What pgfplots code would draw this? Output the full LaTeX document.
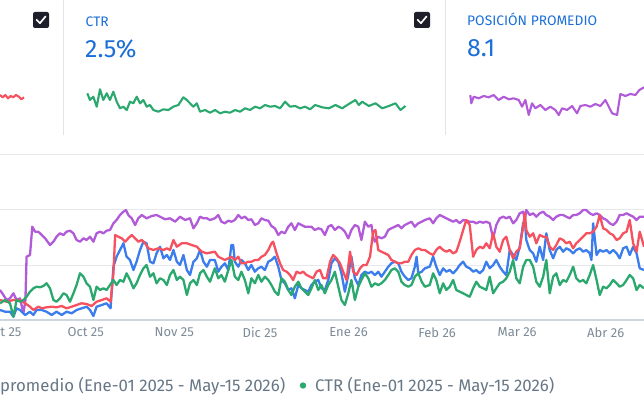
\documentclass[border=0pt]{standalone}
\usepackage{pgfplots}
\pgfplotsset{compat=1.18}
\usepackage{fontspec}
\setmainfont{Fira Sans}
\definecolor{cpurple}{HTML}{B25BD8}
\definecolor{cred}{HTML}{F5515F}
\definecolor{cblue}{HTML}{3B7DED}
\definecolor{cgreen}{HTML}{2AA86E}
\definecolor{ctitle}{HTML}{1B6FD8}
\definecolor{cdiv}{HTML}{E2E4E8}
\definecolor{cgrid}{HTML}{E6E8EB}
\definecolor{caxis}{HTML}{CCD6E0}
\definecolor{ctick}{HTML}{7D8B99}
\definecolor{clegend}{HTML}{687787}
\definecolor{cbox}{HTML}{1E1F2A}
\begin{document}
\begin{tikzpicture}[x=1pt,y=1pt]
\useasboundingbox (0pt,0pt) rectangle (644pt,407pt);
\clip (0pt,0pt) rectangle (644pt,407pt);
\fill[white] (0pt,0pt) rectangle (644pt,407pt);
% card dividers
\draw[cdiv, line width=1pt] (63.5pt,407pt) -- (63.5pt,272pt);
\draw[cdiv, line width=1pt] (445.5pt,407pt) -- (445.5pt,272pt);
% checkboxes
\fill[cbox, rounded corners=2pt] (33pt,379pt) rectangle (49pt,395pt);
\draw[white, line width=1.7pt, line cap=round, line join=round] (36.6pt,387.2pt) -- (39.9pt,383.8pt) -- (45.6pt,390.6pt);
\fill[cbox, rounded corners=2pt] (414pt,379pt) rectangle (430pt,395pt);
\draw[white, line width=1.7pt, line cap=round, line join=round] (417.6pt,387.2pt) -- (420.9pt,383.8pt) -- (426.6pt,390.6pt);
% card texts
\node[anchor=base west, inner sep=0, text=ctitle, font=\fontsize{13.8}{13.8}\selectfont] at (85.5pt,380pt) {CTR};
\node[anchor=base west, inner sep=0, text=ctitle, font=\fontsize{25}{25}\selectfont] at (85pt,349pt) {2.5\%};
\node[anchor=base west, inner sep=0, text=ctitle, font=\fontsize{13.8}{13.8}\selectfont] at (467pt,381pt) {POSICIÓN PROMEDIO};
\node[anchor=base west, inner sep=0, text=ctitle, font=\fontsize{25}{25}\selectfont] at (467pt,350pt) {8.1};
% sparkline: clicks card (fragment)
\begin{axis}[at={(-294pt,287pt)}, anchor=south west, width=318pt, height=40pt, scale only axis,
  xmin=0, xmax=499, ymin=0, ymax=40, hide axis, clip=false]
\addplot[cred, line width=2.1pt, line join=round] coordinates {
(461.3,25)(465.6,22.7)(469.7,25)(473.9,21.7)(478.1,24)(482.2,22.7)(486.4,25)(490.7,23.3)(494.8,20.7)(499,22.7)};
\end{axis}
% sparkline: CTR
\begin{axis}[at={(87.3pt,287pt)}, anchor=south west, width=318pt, height=40pt, scale only axis,
  xmin=0, xmax=499, ymin=0, ymax=40, hide axis, clip=false]
\addplot[cgreen, line width=2.1pt, line join=round] coordinates {
(0,26.7)(4.2,20)(9.4,23.3)(14.8,13.3)(19.9,30.7)(25.1,20)(30.5,26.7)(35.6,20)(40.8,28.3)(46.2,18.3)
(51.3,11.7)(56.5,13.3)(61.9,10)(67,18.3)(72.2,16.7)(77.6,23.3)(82.7,16.7)(87.9,20)(93.3,13.3)(98.4,15)
(103.6,10)(111.5,8.3)(119.3,10.7)(127.2,10)(135,13.3)(142.9,15)(150.7,22.7)(156.1,20)(161.2,16.7)(166.4,13.3)
(171.8,16.7)(176.9,8.3)(184.8,10)(192.6,7.3)(200.5,10)(208.3,6.7)(216.2,8.3)(224,7.3)(231.9,10)(239.7,8.3)
(247.6,11.7)(255.4,10)(263.3,13.3)(271.1,11.7)(279,15)(286.8,13.3)(294.7,14)(302.5,11.7)(310.4,18.3)(318.2,13.3)
(326.1,14)(333.9,11.7)(341.8,13.3)(349.6,10.7)(357.5,15)(368.5,12.7)(379,11.7)(389.4,15)(399.9,11.7)(410.4,16)
(420.7,20)(426.1,15)(431.3,18.3)(441.8,14)(452.2,16.7)(462.7,11.7)(473.2,14)(483.6,16.7)(491.4,10)(499.3,14)};
\end{axis}
% sparkline: position
\begin{axis}[at={(470.3pt,287pt)}, anchor=south west, width=318pt, height=40pt, scale only axis,
  xmin=0, xmax=499, ymin=0, ymax=40, hide axis, clip=false]
\addplot[cpurple, line width=2.1pt, line join=round] coordinates {
(0,25)(1.6,16.7)(5.3,23.3)(13.2,21.7)(21,24)(28.9,22.7)(36.7,25)(44.6,20)(52.4,23.3)(60.3,20.7)
(68.1,21.7)(76,20)(81.2,13.3)(86.4,20)(91.7,5)(96.9,16.7)(102.1,11.7)(109.9,15)(117.8,10)(125.6,13.3)
(133.5,10)(138.8,5)(144,11.7)(151.8,10)(159.7,14)(167.5,6.7)(172.7,14)(180.6,15)(188.4,13.3)(196.3,16)
(204.1,14)(212,20)(217.3,13.3)(222.5,6.7)(230.3,5)(235.5,26)(243.4,24)(251.2,26)(259.1,25)(265.3,30)(272.7,32.7)};
\end{axis}
% main chart
\begin{axis}[at={(0pt,87pt)}, anchor=south west, width=644pt, height=165pt, scale only axis,
  xmin=0, xmax=225.4, ymin=0, ymax=165, clip=false,
  axis x line=bottom, x axis line style={caxis, line width=1.2pt, -},
  y axis line style={draw=none},
  ytick={55,110,165}, yticklabels={}, ymajorgrids, grid style={cgrid, line width=1pt},
  major tick length=0pt,
  xtick={0,30,61,91,122,153,181,212},
  xticklabels={Sept 25,Oct 25,Nov 25,Dic 25,Ene 26,Feb 26,Mar 26,Abr 26},
  xticklabel style={font=\fontsize{13}{13}\selectfont, text=ctick, yshift=-4pt},
  every axis plot/.append style={line width=2.3pt, line join=round, mark=none}]
\addplot[cpurple] coordinates {
(0,30)(1.2,25)(2.3,20)(3.5,21.7)(4.7,26.7)(5.8,20)(7,21.7)(8.2,6.7)(8.9,20)(9.3,63.3)(10.5,65)(11.3,93.3)(12.3,88.3)(13.4,88.3)(14.6,85)(15.8,81.7)(17.5,75)(18.7,78.3)(19.8,83.3)(21,86.7)(22.2,85)(23.3,88.3)(24.5,89.3)(25.7,86.7)(26.8,80)(28,78.3)(29.2,81.7)(30.3,80)(31.5,83.3)(32.7,78.3)(33.8,86.7)(35,88.3)(36.2,86.7)(37.3,89.3)(38.5,90)(39.7,96.7)(40.8,100)(42,105)(43.2,108.3)(44.1,110)(44.9,105)(46.1,101.7)(47.3,95)(48.4,101.7)(49.6,105)(51.3,101.7)(53.1,104)(54.8,105)(56,103.3)(57.8,100.7)(59.5,101.7)(61.3,98.3)(63,103.3)(64.8,100)(66.5,101.7)(67.7,91.7)(68.9,96.7)(70,103.3)(71.2,101.7)(72.4,101.7)(73.5,100)
(75.2,101.7)(76.4,105)(77.5,98.3)(78.7,96.7)(79.9,99.3)(81,98.3)(82.2,100)(83.4,105)(84.5,101.7)(85.7,103.3)(86.9,100)(88,100.7)(89.2,95)(90.4,96.7)(91.5,101.7)(92.7,100)(93.9,99.3)(95,94)(96.2,91.7)(97.4,85)(98.5,88.3)(99.7,86.7)(100.9,93.3)(102,96.7)(103.2,90)(104.4,96.7)(105.5,95)(106.7,93.3)(107.9,93.3)(109,93.3)(110.2,90)(111.4,91.7)(112.5,90.7)(113.7,85)(114.9,93.3)(116,95)(117.2,90)(118.4,93.3)(119.5,91.7)(120.7,88.3)(121.9,81.7)(123,90)(124.2,95)(125.4,93.3)(126.5,80)(127.7,98.3)(128.9,93.3)(130,95)(130.6,83.3)(131.2,78.3)(132.4,83.3)(133.5,81.7)(134.7,83.3)(135.9,90)(137,91.7)(138.2,93.3)(139.4,95)(140.5,91.7)(141.7,95)(142.9,96.7)(144,98.3)(145.2,93.3)(146.4,96.7)(147.6,98.3)(148.7,100)
(150.4,101.7)(151.6,96.7)(152.7,101.7)(153.9,105)(155.1,103.3)(156.2,101.7)(157.4,100)(158.6,98.3)(159.7,100)(160.9,96.7)(162.1,100)(163.2,99.3)(164.4,98.3)(165.6,98.3)(166.7,96.7)(167.9,98.3)(169.1,97.3)(170.2,98.3)(171.4,96.7)(172.6,81.7)(173.7,95)(174.9,101.7)(176.1,103.3)(177.2,101.7)(178.4,103.3)(179.6,96.7)(180.7,100)(181.9,106.7)(183.1,108.3)(183.7,100)(184.2,110)(185.4,105)(186.6,106.7)(187.7,103.3)(188.9,106.7)(190.1,108.3)(191.2,105)(192.4,103.3)(193.6,100)(194.7,103.3)(195.9,105)(197.1,105)(198.2,103.3)(199.4,101.7)(200.6,105)(201.7,105)(202.9,106.7)(204.1,110)(205.2,110)(206.4,106.7)(207.6,105)(208.8,106.7)(209.9,105)(211.1,101.7)(212.3,100)(213.4,96.7)(214.6,95)(215.8,98.3)(216.9,105)(218.1,105)(219.3,106.7)(220.4,105)(221.6,103.3)(222.8,100)(223.9,103.3)(225.4,103.3)};
\addplot[cblue] coordinates {
(0,10)(1.8,8.3)(3.5,8.3)(4.7,3.3)(5.8,11.7)(7,10)(8.8,5)(10.5,8.3)(11.7,5)(12.8,10)(14.6,10)(16.3,8.3)(18.1,5)(19.8,8.3)(21.6,5)(23.3,8.3)(25.1,6.7)(26.8,10)(28.6,11.7)(30.3,13.3)(31.5,10)(32.7,4)(33.8,13.3)(35.6,15)(37.3,16.7)(38.7,11.7)(39.7,53.3)(40.8,63.3)(42,70)(43.2,76.7)(44.3,63.3)(45.5,60)(46.7,50)(47.8,58.3)(49,70)(50.2,78.3)(51.3,76.7)(52.5,58.3)(53.7,56.7)(54.8,66.7)(56,73.3)(57.2,61.7)(58.4,65)(59.5,60)(60.7,70)(61.9,58.3)(63,55)(64.2,65)(65.4,50)(66.5,45)(67.7,58.3)(68.9,61.7)(70,70)(71.2,58.3)(72.4,53.3)(73.5,60)
(75.2,60)(76.4,48.3)(77.5,53.3)(78.7,56.7)(79.9,50)(81,75)(81.6,75)(82.2,58.3)(83.4,53.3)(84.5,60)(85.7,56.7)(86.9,50)(88,55)(89.2,48.3)(90.4,51.7)(91.5,53.3)(92.7,50)(93.9,58.3)(95,60)(96.2,63.3)(97.4,53.3)(98.5,40)(99.7,36.7)(100.9,30)(102,31.7)(103.2,21.7)(104.4,35)(105.5,31.7)(106.7,30)(107.9,28.3)(109,35)(110.2,38.3)(111.4,40)(112.5,31.7)(113.7,30)(114.9,40)(116,56.7)(117.2,61.7)(118.4,58.3)(119.5,46.7)(120.7,28.3)(121.9,45)(123,63.3)(124.2,41.7)(125.4,35)(126.5,45)(127.7,48.3)(128.9,46.7)(130,48.3)(131.2,45)(132.4,48.3)(133.5,43.3)(134.7,48.3)(135.9,53.3)(137,56.7)(138.2,58.3)(139.4,56.7)(140.5,48.3)(141.7,43.3)(142.9,40)(144,41.7)(145.2,53.3)(145.8,63.3)(146.4,46.7)(147.6,48.3)(148.7,51.7)
(150.4,53.3)(151.6,63.3)(152.7,53.3)(153.9,45)(155.1,51.7)(156.2,48.3)(157.4,50)(158.6,46.7)(159.7,50)(160.9,55)(162.1,58.3)(163.2,53.3)(164.4,51.7)(165.6,48.3)(166.7,50)(167.9,46.7)(169.1,50)(170.2,58.3)(171.4,51.7)(172.6,55)(173.7,60)(174.9,53.3)(176.1,48.3)(177.2,45)(178.4,70)(179.6,65)(180.7,60)(181.9,73.3)(183.1,96.7)(183.7,100)(184.2,80)(185.4,70)(186.6,66.7)(187.7,58.3)(188.9,73.3)(190.1,60)(191.2,86.7)(192.4,70)(193.6,61.7)(194.7,70)(195.9,73.3)(197.1,68.3)(198.2,71.7)(199.4,70)(200.6,66.7)(201.7,70)(202.9,71.7)(204.1,68.3)(205.2,70)(206.4,66.7)(207,60)(207.6,96.7)(208.8,65)(209.9,70)(211.1,68.3)(212.3,70)(213.4,66.7)(214.6,70)(215.8,66.7)(216.9,61.7)(218.1,71.7)(219.3,73.3)(220.4,65)(221.6,73.3)(222.8,66.7)(223.9,51.7)(225.4,50)};
\addplot[cred] coordinates {
(0,20)(2.3,18.3)(4.7,20)(7,20)(8.8,16.7)(10.5,13.3)(11.7,10)(13.4,13.3)(14.6,11.7)(16.3,12.7)(18.1,13.3)(19.8,12.7)(21.6,14)(23.3,11.7)(25.1,13.3)(26.8,15)(28.6,16.7)(30.3,16)(32.1,14)(33.8,18.3)(35.6,20)(37.3,21.7)(38.7,18.3)(39.7,46.7)(40.3,85)(41.4,83.3)(42.6,81.7)(43.8,78.3)(44.9,81.7)(46.1,85)(47.3,81.7)(48.4,78.3)(49.6,80)(50.8,76.7)(51.9,71.7)(53.7,70)(55.4,71.7)(57.2,70)(58.4,71.7)(59.5,70)(60.7,80)(61.9,73.3)(63.6,76.7)(65.4,76.7)(67.1,75)(68.9,73.3)(70.6,68.3)(72.4,66.7)
(75.2,68.3)(76.4,63.3)(77.5,61.7)(78.7,60)(79.9,61.7)(81,63.3)(82.2,60)(83.4,63.3)(84.5,56.7)(85.7,56.7)(86.9,58.3)(88,58.3)(89.2,60)(90.4,60)(91.5,63.3)(92.7,65)(93.9,70)(95,76.7)(95.6,78.3)(96.8,66.7)(98,56.7)(99.1,50)(100.3,48.3)(101.5,45)(102.6,40)(103.8,48.3)(105,46.7)(106.1,48.3)(107.3,45)(108.5,43.3)(109.6,41.7)(110.8,48.3)(112,50)(113.1,41.7)(114.3,41.7)(115.5,58.3)(116.6,65)(117.8,61.7)(119,56.7)(120.1,48.3)(121.3,40)(122.5,68.3)(123.6,48.3)(124.8,45)(126,51.7)(127.1,55)(128.3,55)(129.5,63.3)(130.6,88.3)(131.4,90)(132.4,70)(133.5,68.3)(134.7,66.7)(135.9,65)(137,60)(138.2,58.3)(139.4,56.7)(140.5,56.7)(141.7,58.3)(142.9,58.3)(144,65)(145.2,70)(146.4,71.7)(147.6,70)(148.7,70)
(150.4,66.7)(151.6,65)(152.7,70)(153.9,73.3)(155.1,70)(156.2,68.3)(157.4,70)(158.6,66.7)(159.7,68.3)(160.9,78.3)(162.1,90)(163.2,100)(164.4,95)(165.6,63.3)(166.7,70)(167.9,73.3)(169.1,71.7)(170.2,76.7)(171.4,71.7)(172.6,86.7)(173.7,73.3)(174.9,68.3)(176.1,80)(177.2,83.3)(178.4,70)(179.6,61.7)(180.7,68.3)(181.9,71.7)(183.1,93.3)(183.7,106.7)(184.2,90)(185.4,83.3)(186.6,86.7)(187.7,76.7)(188.9,85)(190.1,83.3)(191.2,83.3)(192.4,73.3)(193.6,70)(194.7,75)(195.9,81.7)(197.1,80)(198.2,76.7)(199.4,78.3)(200.6,71.7)(201.7,76.7)(202.9,80)(204.1,83.3)(205.2,86.7)(206.4,86.7)(207.6,88.3)(208.8,93.3)(209.9,105)(211.1,91.7)(212.3,90)(213.4,86.7)(214.6,85)(215.8,80)(216.9,81.7)(218.1,86.7)(219.3,88.3)(220.4,100)(221.6,76.7)(222.8,68.3)(223.9,88.3)(225.4,73.3)};
\addplot[cgreen] coordinates {
(0,16.7)(1.8,20)(3.5,16.7)(4.7,3.3)(5.8,20)(7,18.3)(8.2,20)(9.3,23.3)(10.5,28.3)(11.7,31.7)(12.8,33.3)(14,32.7)(15.2,34)(16.3,36.7)(17.5,31.7)(18.7,20)(19.8,18.3)(21,21.7)(22.2,26.7)(23.3,25)(24.5,18.3)(25.7,26.7)(26.8,35)(28,46.7)(29.2,43.3)(30.3,36.7)(31.5,33.3)(32.7,20)(33.8,33.3)(35,30)(36.2,31.7)(37.3,30)(38.5,35)(39.7,40)(40.8,35)(42,40)(43.2,38.3)(44.3,46.7)(45.5,40)(46.7,31.7)(47.8,36.7)(49,45)(50.2,51.7)(51.3,55)(52.5,43.3)(53.7,46.7)(54.8,36.7)(56,41.7)(57.2,40)(58.4,35)(59.5,45)(60.7,50)(61.9,40)(63,43.3)(64.2,40)(65.4,25)(66.5,36.7)(67.7,40)(68.9,35)(70,46.7)(71.2,50)(72.4,43.3)(73.5,38.3)
(75.2,51.7)(76.4,41.7)(77.5,45)(78.7,38.3)(79.9,50)(81,60)(82.2,43.3)(83.4,40)(84.5,48.3)(85.7,40)(86.9,26.7)(88,41.7)(89.2,36.7)(90.4,45)(91.5,38.3)(92.7,43.3)(93.9,40)(95,35)(96.2,28.3)(97.4,25)(98.5,41.7)(99.7,38.3)(100.9,30)(102,25)(103.2,33.3)(104.4,38.3)(105.5,31.7)(106.7,28.3)(107.9,25)(109,31.7)(110.2,40)(111.4,30)(112.5,35)(113.7,26.7)(114.9,35)(116,40)(117.2,48.3)(118.4,33.3)(119.5,20)(120.7,15)(121.9,26.7)(123,40)(124.2,20)(125.4,33.3)(126.5,40)(127.7,46.7)(128.9,41.7)(130,33.3)(131.2,36.7)(132.4,35)(133.5,36.7)(134.7,40)(135.9,45)(137,50)(138.2,51.7)(139.4,48.3)(140.5,38.3)(141.7,35)(142.9,33.3)(144,35)(145.2,43.3)(146.4,46.7)(147.6,38.3)(148.7,33.3)
(150.4,35)(151.6,46.7)(152.7,40)(153.9,26.7)(155.1,36.7)(156.2,30)(157.4,33.3)(158.6,40)(159.7,30)(160.9,28.3)(162.1,26.7)(163.2,25)(164.4,23.3)(165.6,31.7)(166.7,38.3)(167.9,33.3)(169.1,31.7)(170.2,30)(171.4,43.3)(172.6,26.7)(173.7,31.7)(174.9,36.7)(176.1,38.3)(177.2,41.7)(178.4,48.3)(179.6,60)(180.7,41.7)(181.9,36.7)(183.1,53.3)(184.2,60)(185.4,60)(186.6,53.3)(187.7,38.3)(188.9,33.3)(190.1,43.3)(191.2,60)(192.4,26.7)(193.6,43.3)(194.7,46.7)(195.9,35)(197.1,40)(198.2,38.3)(199.4,45)(200.6,53.3)(201.7,41.7)(202.9,38.3)(204.1,40)(205.2,36.7)(206.4,45)(207.6,55)(208.8,40)(209.9,25)(211.1,33.3)(212.3,31.7)(213.4,35)(214.6,40)(215.8,36.7)(216.9,33.3)(218.1,35)(219.3,40)(220.4,45)(221.6,41.7)(222.8,30)(223.9,35)(225.4,31.7)};
\end{axis}
% legend
\node[anchor=base west, inner sep=0, text=clegend, font=\fontsize{16.8}{16.8}\selectfont] at (0pt,16pt) {promedio (Ene-01 2025 - May-15 2026)};
\fill[cgreen] (303pt,21.5pt) circle (3.2pt);
\node[anchor=base west, inner sep=0, text=clegend, font=\fontsize{16.8}{16.8}\selectfont] at (315pt,16pt) {CTR (Ene-01 2025 - May-15 2026)};
\end{tikzpicture}
\end{document}
